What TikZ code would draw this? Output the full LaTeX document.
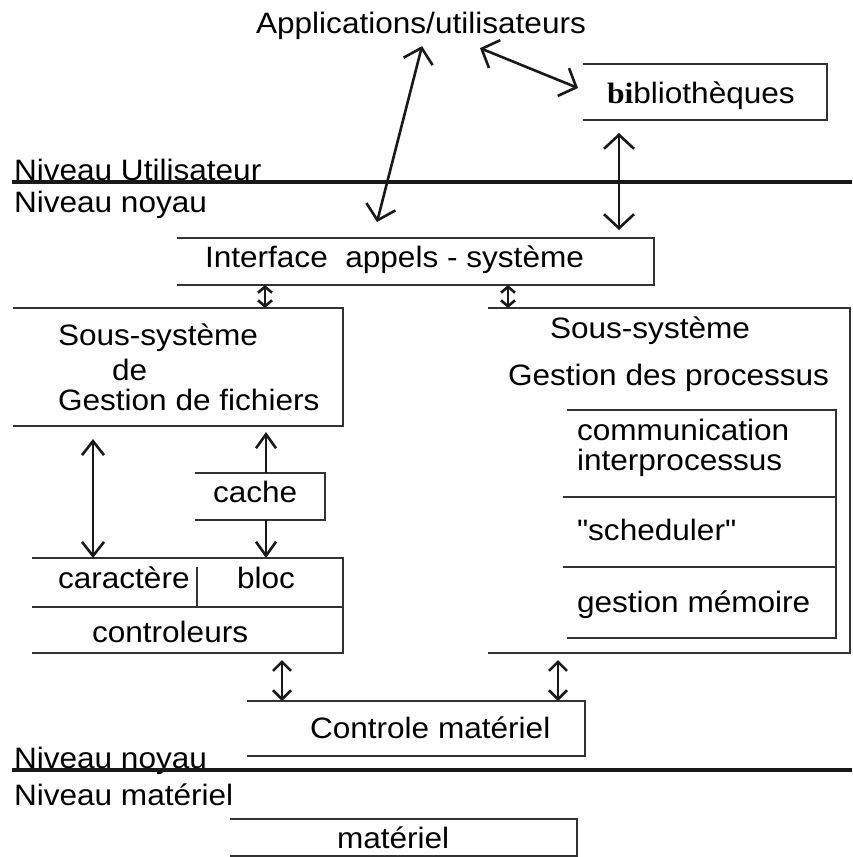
\documentclass[tikz,border=0pt]{standalone}
\usepackage{fontspec}
\setmainfont{Liberation Sans}[FakeStretch=1.07]
% same face without TeX ligature mapping, so that " stays a straight quote
\newfontfamily\straightsans{Liberation Sans}[FakeStretch=1.07]
\newfontfamily\serifbold{Liberation Serif}[FakeStretch=1.07]
\usetikzlibrary{arrows.meta,calc,fit}

% open frame: top, right and bottom edges of a box node
\newcommand\openframe[1]{\draw[boxline] (#1.north west) -- (#1.north east) -- (#1.south east) -- (#1.south west);}

\begin{document}
\begin{tikzpicture}[x=1pt,y=-1pt,
  every node/.style={inner sep=0pt, outer sep=0pt, font=\fontsize{29.5}{33}\selectfont},
  lbl/.style={anchor=base west},
  boxline/.style={line width=2.5pt, draw=black!80},
  levelline/.style={line width=3.2pt, draw=black!90},
  link/.style={line width=2.6pt, draw=black!90},
  big/.style={link, arrows={Straight Barb[length=14pt,width=30pt]-Straight Barb[length=14pt,width=30pt]}},
  mid/.style={link, arrows={Straight Barb[length=14pt,width=22pt]-Straight Barb[length=14pt,width=22pt]}},
  midup/.style={link, arrows={-Straight Barb[length=14pt,width=20pt]}},
  low/.style={link, arrows={Straight Barb[length=9pt,width=18pt]-Straight Barb[length=9pt,width=18pt]}},
  tiny/.style={link, arrows={Straight Barb[length=6pt,width=14pt]-Straight Barb[length=6pt,width=14pt]}},
]
\useasboundingbox (0,0) rectangle (852,857);

% ---------- user level ----------
\node[anchor=base] (apps) at (421,33) {Applications/utilisateurs};
\node[fit={(583,64) (827,120)}] (lib) {};
\openframe{lib}
\node[lbl] (libtxt) at (607,103) {{\serifbold\bfseries bi}bliothèques};

\node[lbl] (nu) at (14,180) {Niveau Utilisateur};
\draw[levelline] (12,182) -- (852,182);
\node[lbl] (nn1) at (14,212) {Niveau noyau};

% ---------- kernel level ----------
\node[fit={(177,238) (654,285)}] (iface) {};
\openframe{iface}
\node[lbl] (ifacetxt) at (205,267) {Interface~~appels - système};

% file subsystem
\node[fit={(13,308) (343,426)}] (fs) {};
\openframe{fs}
\node[lbl] (fs1) at (58,345) {Sous-système};
\node[lbl] (fs2) at (112,380) {de};
\node[lbl] (fs3) at (58,410) {Gestion de fichiers};

\node[fit={(195,473) (325,520)}] (cache) {};
\openframe{cache}
\node[lbl] (cachetxt) at (213,502) {cache};

\node[fit={(32,558) (343,653)}] (dev) {};
\openframe{dev}
\draw[boxline] (dev.west |- 0,607) -- (dev.east |- 0,607);
\draw[boxline] (197,567) -- (197,607);
\node[lbl] (car) at (58,588) {caractère};
\node[lbl] (bloc) at (237,588) {bloc};
\node[lbl] (ctl) at (92,642) {controleurs};

% process subsystem
\node[fit={(488,308) (850,653)}] (ps) {};
\openframe{ps}
\node[lbl] (ps1) at (550,338) {Sous-système};
\node[lbl] (ps2) at (508,385) {Gestion des processus};

\node[fit={(567,410) (836,638)}] (proc) {};
\openframe{proc}
\draw[boxline] (563,497) -- (proc.east |- 0,497);
\draw[boxline] (563,567) -- (proc.east |- 0,567);
\node[lbl] (ipc1) at (577,440) {communication};
\node[lbl] (ipc2) at (577,470) {interprocessus};
\node[lbl, font=\fontsize{29.5}{33}\straightsans] (sched) at (577,540) {"scheduler"};
\node[lbl] (mem) at (577,612) {gestion mémoire};

% hardware control
\node[fit={(247,701) (585,756)}] (hwc) {};
\openframe{hwc}
\node[lbl] (hwctxt) at (310,738) {Controle matériel};

\node[lbl] (nn2) at (14,768) {Niveau noyau};
\draw[levelline] (12,770) -- (852,770);
\node[lbl] (nm) at (14,805) {Niveau matériel};

% ---------- hardware level ----------
\node[fit={(230,819) (577,856)}] (hw) {};
\openframe{hw}
\node[lbl] (hwtxt) at (337,848) {matériel};

% ---------- connectors ----------
\draw[big] ($(apps.south)+(1,7)$) -- ($(iface.north west)+(200,-16)$);
\draw[big] ($(apps.south)+(59,9)$) -- ($(lib.west)+(-5,-4)$);
\draw[big] ($(lib.south west)+(36,13)$) -- ($(iface.north west)+(442,-8)$);

\draw[tiny] ($(iface.south west)+(88,0)$) -- ($(fs.north west)+(252,0)$);
\draw[tiny] ($(iface.south west)+(331,0)$) -- ($(ps.north west)+(20,0)$);

\draw[mid] ($(fs.south west)+(80,13)$) -- ($(dev.north west)+(61,0)$);
\draw[midup] ($(cache.north west)+(71,0)$) -- ($(fs.south west)+(253,6)$);
\draw[midup] ($(cache.south west)+(71,0)$) -- ($(dev.north west)+(234,0)$);

\draw[low] ($(dev.south west)+(250,7)$) -- ($(hwc.north west)+(35,0)$);
\draw[low] ($(ps.south west)+(70,7)$) -- ($(hwc.north west)+(311,0)$);
\end{tikzpicture}
\end{document}
